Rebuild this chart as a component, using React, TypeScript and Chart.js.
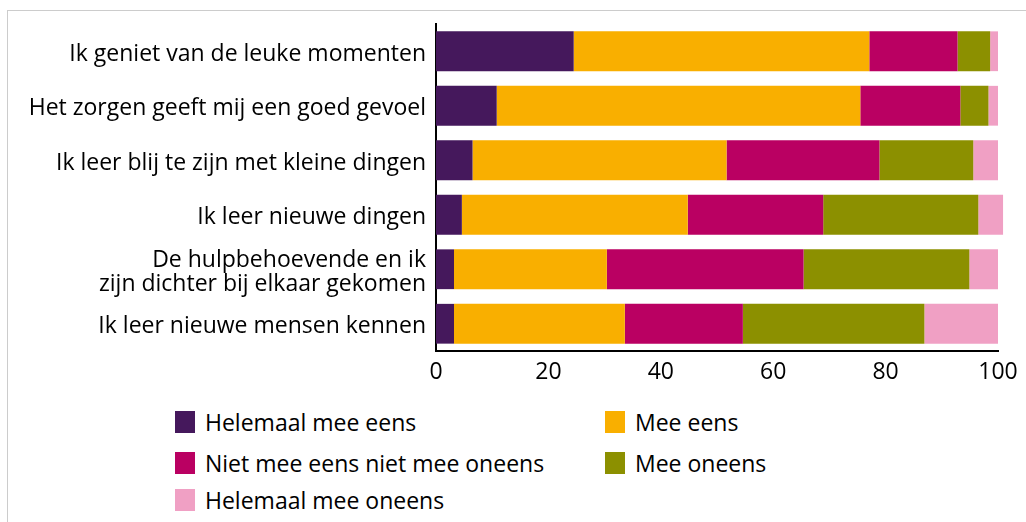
import React, { useEffect, useRef } from "react";
import { Chart, registerables } from "chart.js";

Chart.register(...registerables);

const categories: (string | string[])[] = [
  "Ik geniet van de leuke momenten",
  "Het zorgen geeft mij een goed gevoel",
  "Ik leer blij te zijn met kleine dingen",
  "Ik leer nieuwe dingen",
  ["De hulpbehoevende en ik", "zijn dichter bij elkaar gekomen"],
  "Ik leer nieuwe mensen kennen",
];

const seriesNames = [
  "Helemaal mee eens",
  "Mee eens",
  "Niet mee eens niet mee oneens",
  "Mee oneens",
  "Helemaal mee oneens",
];

const helemaalMeeEens = [24.5, 10.8, 6.5, 4.6, 3.2, 3.2];
const meeEens = [52.6, 64.7, 45.2, 40.2, 27.2, 30.4];
const neutraal = [15.7, 17.8, 27.2, 24.1, 35.0, 21.0];
const meeOneens = [5.8, 5.0, 16.7, 27.6, 29.5, 32.3];
const helemaalMeeOneens = [1.4, 1.7, 4.4, 4.4, 5.1, 13.1];

const xTicks = [0, 20, 40, 60, 80, 100];

const colors = ["#45185C", "#F9AF00", "#BA0062", "#8C9000", "#F0A0C4"];

const seriesValues = [helemaalMeeEens, meeEens, neutraal, meeOneens, helemaalMeeOneens];

const FONT = "'Open Sans', sans-serif";

export default function App() {
  const ref = useRef<HTMLCanvasElement | null>(null);

  useEffect(() => {
    if (!ref.current) return;
    const chart = new Chart(ref.current, {
      type: "bar",
      data: {
        labels: categories as any,
        datasets: seriesNames.map((name, i) => ({
          label: name,
          data: seriesValues[i],
          backgroundColor: colors[i],
          borderWidth: 0,
          barPercentage: 0.73,
          categoryPercentage: 1,
          clip: false as any,
        })),
      },
      options: {
        indexAxis: "y",
        responsive: false,
        animation: false,
        maintainAspectRatio: false,
        layout: { padding: { top: 24, right: 28, left: 0, bottom: 0 } },
        plugins: {
          legend: { display: false },
          tooltip: { enabled: false },
        },
        scales: {
          x: {
            stacked: true,
            min: 0,
            max: 100,
            afterBuildTicks: (scale: any) => {
              scale.ticks = xTicks.map((v) => ({ value: v }));
            },
            afterFit: (scale: any) => {
              scale.height = 40;
            },
            grid: { display: false, drawTicks: false },
            border: { display: true, color: "#000", width: 2 },
            ticks: {
              color: "#000",
              padding: 8,
              maxRotation: 0,
              font: { family: FONT, size: 23 },
            },
          },
          y: {
            stacked: true,
            afterFit: (scale: any) => {
              scale.width = 436;
            },
            grid: { display: false, drawTicks: false },
            border: { display: true, color: "#000", width: 2 },
            ticks: {
              color: "#000",
              padding: 10,
              labelOffset: 3,
              font: { family: FONT, size: 23, lineHeight: 1.05 },
            },
          },
        },
      },
    });
    return () => chart.destroy();
  }, []);

  const legendItems = seriesNames.map((n, i) => ({ name: n, color: colors[i] }));
  const positions = [
    { left: 175, top: 411 },
    { left: 605, top: 411 },
    { left: 175, top: 452 },
    { left: 605, top: 452 },
    { left: 175, top: 489 },
  ];

  return (
    <div style={{ position: "fixed", left: 0, top: 0, width: 1026, height: 522, background: "#fff", overflow: "hidden" }}>
      <div
        style={{
          position: "absolute",
          left: 7,
          top: 10,
          width: 1030,
          height: 520,
          borderTop: "1px solid #cccccc",
          borderLeft: "1px solid #cccccc",
        }}
      />
      <canvas ref={ref} width={1026} height={391} style={{ position: "absolute", left: 0, top: 0 }} />
      {legendItems.map((it, i) => (
        <div
          key={it.name}
          style={{
            position: "absolute",
            left: positions[i].left,
            top: positions[i].top,
            height: 22,
            display: "flex",
            alignItems: "center",
            fontFamily: FONT,
            fontSize: 23,
            color: "#000",
            whiteSpace: "nowrap",
          }}
        >
          <span style={{ display: "inline-block", width: 20, height: 22, background: it.color, marginRight: 10 }} />
          <span>{it.name}</span>
        </div>
      ))}
    </div>
  );
}
